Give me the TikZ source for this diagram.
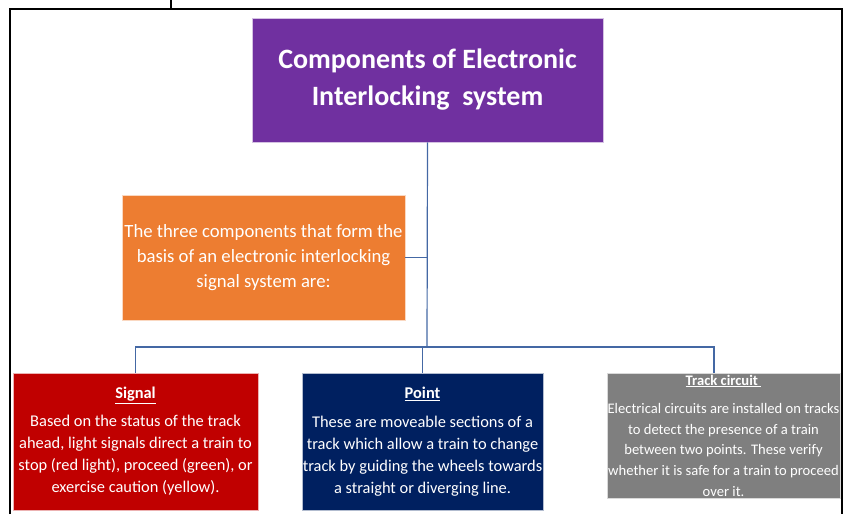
\documentclass[tikz,border=0pt]{standalone}
\usepackage{fontspec}
\setmainfont{Carlito}
\usepackage{xcolor}
\usetikzlibrary{positioning,calc}

\definecolor{titlepurple}{HTML}{7030A0}
\definecolor{introorange}{HTML}{ED7D31}
\definecolor{signalred}{HTML}{C00000}
\definecolor{pointnavy}{HTML}{002060}
\definecolor{trackgray}{HTML}{7F7F7F}
\definecolor{connblue}{RGB}{68,104,164}

\begin{document}
\begin{tikzpicture}[
    x=1pt, y=-1pt,
    box/.style={draw=white!70!#1, line width=0.6pt, fill=#1, text=white,
      align=center, inner sep=0pt},
    conn/.style={draw=connblue, line width=1.2pt},
    frame/.style={draw=black, line width=1.6pt},
  ]
    \useasboundingbox (0,0) rectangle (845,514);

    % --- outer frame ---
    \draw[frame] (10,514) -- (10,9) -- (842,9) -- (842,514);
    \draw[frame] (171,0) -- (171,9);

    % --- title and intro ---
    \node[box=titlepurple, minimum width=351pt, minimum height=124pt,
      font=\fontsize{28}{37}\selectfont\bfseries] (title) at (427.5,80)
      {Components of Electronic\\Interlocking\ \ system};
    \node[box=introorange, minimum width=283pt, minimum height=125pt,
      font=\fontsize{18.7}{25}\selectfont] (intro) at (263.5,257.5)
      {The three components that form the\\basis of an electronic interlocking\\signal system are:};

    % --- components row ---
    \node[box=signalred, minimum width=245pt, minimum height=137pt,
      font=\fontsize{16.4}{22}\selectfont] (signal) at (135.5,441.5)
      {\underline{\textbf{Signal}}\\[6pt]Based on the status of the track\\ahead, light signals direct a train to\\stop (red light), proceed (green), or\\exercise caution (yellow).};
    \node[box=pointnavy, minimum width=241pt, minimum height=137pt,
      font=\fontsize{16.4}{22}\selectfont] (point) at (422.5,441.5)
      {\underline{\textbf{Point}}\\[7pt]These are moveable sections of a\\track which allow a train to change\\track by guiding the wheels towards\\a straight or diverging line.};
    \node[box=trackgray, minimum width=233pt, minimum height=125pt,
      font=\fontsize{14.6}{20.6}\selectfont] (track) at (723.5,435.5)
      {\underline{\textbf{Track circuit\ }}\\[8pt]Electrical circuits are installed on tracks\\to detect the presence of a train\\between two points. These verify\\whether it is safe for a train to proceed\\over it.};

    % --- connectors ---
    \coordinate (bus) at (427,347);
    \coordinate (trackin) at ($(track.north)+(-9.5,0)$);
    \draw[conn] (title.south) -- (bus);
    \draw[conn] (intro.east) -- (intro.east -| bus);
    \coordinate (busL) at (signal.north |- bus);
    \draw[conn] (signal.north) -- (busL) -- (busL -| trackin) -- (trackin);
    \draw[conn] (point.north) -- (point.north |- bus);
  \end{tikzpicture}
\end{document}
